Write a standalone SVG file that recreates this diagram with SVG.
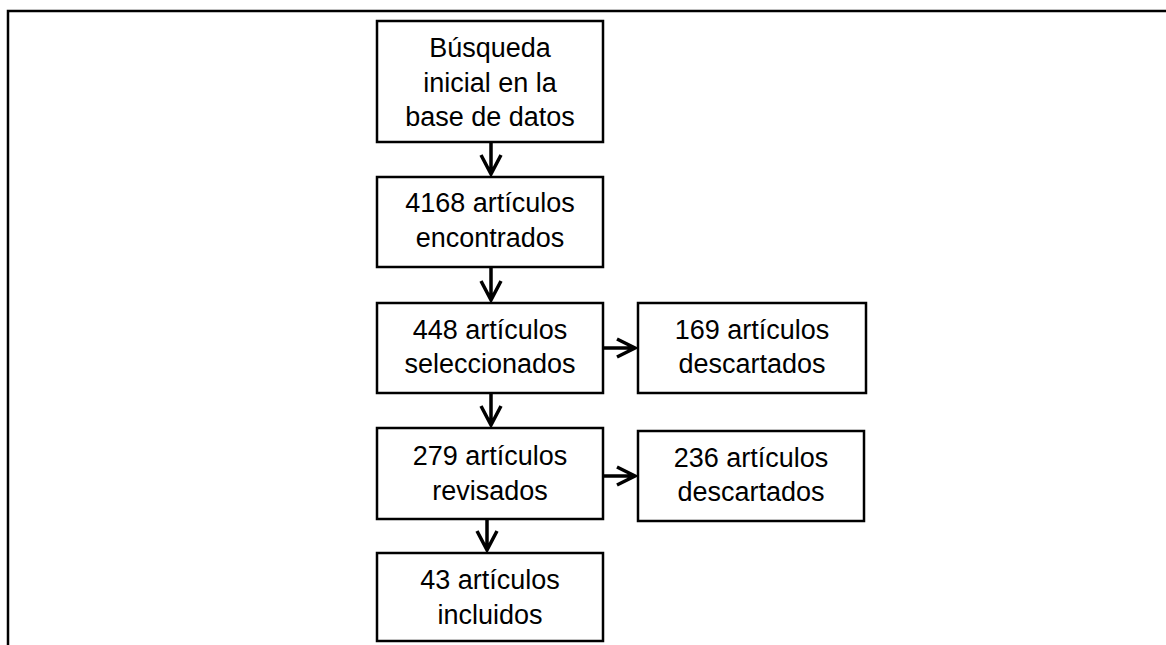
<svg xmlns="http://www.w3.org/2000/svg" width="1166" height="645" viewBox="0 0 1166 645">
<style>
.box{fill:#fff;stroke:#000;stroke-width:2.5}
.t{font-family:"Liberation Sans",Arial,sans-serif;font-size:27px;fill:#000;text-anchor:middle}
.c{fill:none;stroke:#000;stroke-width:3.5}
</style>
<rect width="1166" height="645" fill="#fff"/>
<path d="M8 645 V11 H1166" fill="none" stroke="#000" stroke-width="2.5"/>
<g id="n1"><rect class="box" x="377" y="21" width="226" height="121"/>
<text class="t" x="490" y="57">Búsqueda</text><text class="t" x="490" y="92">inicial en la</text><text class="t" x="490" y="126">base de datos</text></g>
<g id="n2"><rect class="box" x="377" y="177" width="226" height="90"/>
<text class="t" x="490" y="212">4168 artículos</text><text class="t" x="490" y="247">encontrados</text></g>
<g id="n3"><rect class="box" x="377" y="303" width="226" height="90"/>
<text class="t" x="490" y="339">448 artículos</text><text class="t" x="490" y="373">seleccionados</text></g>
<g id="n3r"><rect class="box" x="638" y="303" width="228" height="90"/>
<text class="t" x="752" y="339">169 artículos</text><text class="t" x="752" y="373">descartados</text></g>
<g id="n4"><rect class="box" x="377" y="428" width="226" height="91"/>
<text class="t" x="490" y="465">279 artículos</text><text class="t" x="490" y="500">revisados</text></g>
<g id="n4r"><rect class="box" x="638" y="431" width="226" height="90"/>
<text class="t" x="751" y="467">236 artículos</text><text class="t" x="751" y="501">descartados</text></g>
<g id="n5"><rect class="box" x="377" y="553" width="226" height="88"/>
<text class="t" x="490" y="589">43 artículos</text><text class="t" x="490" y="624">incluidos</text></g>
<g id="connectors">
<path class="c" d="M491 142 V174 M481 155 L491 174 L501 155"/>
<path class="c" d="M491 267 V300 M481 281 L491 300 L501 281"/>
<path class="c" d="M491 393 V425 M481 406 L491 425 L501 406"/>
<path class="c" d="M487 519 V550 M477 531 L487 550 L497 531"/>
<path class="c" d="M603 348 H635 M617 339 L635 348 L617 357"/>
<path class="c" d="M603 476 H635 M617 467 L635 476 L617 485"/>
</g>
</svg>
